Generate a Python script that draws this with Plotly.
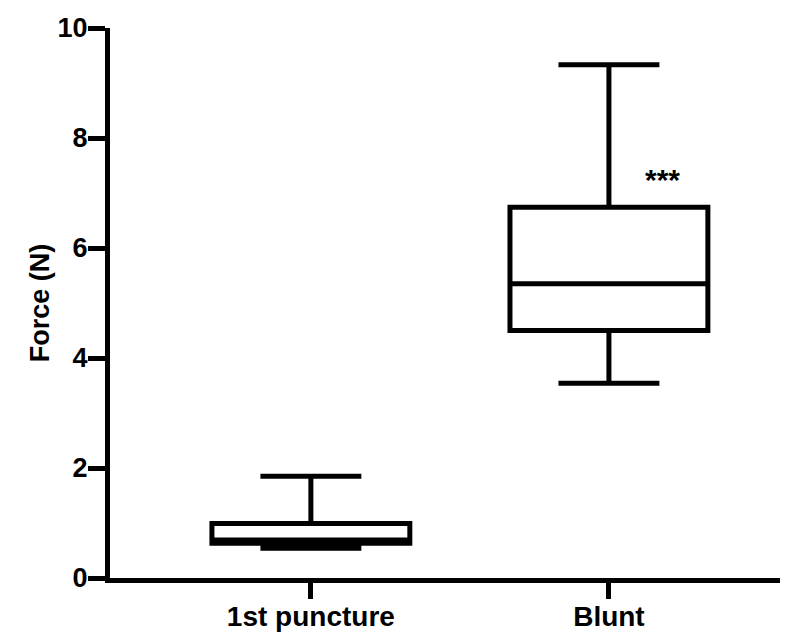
import plotly.graph_objects as go

categories = ["1st puncture", "Blunt"]
q1 = [0.63, 4.50]
median = [0.69, 5.35]
q3 = [0.99, 6.74]
lower_whisker = [0.54, 3.54]
upper_whisker = [1.85, 9.33]
y_ticks = [0, 2, 4, 6, 8, 10]
sig_label = "***"

FONT = "Liberation Sans, Arial, sans-serif"

fig = go.Figure()
for i, cat in enumerate(categories):
    fig.add_trace(go.Box(
        x=[cat],
        q1=[q1[i]], median=[median[i]], q3=[q3[i]],
        lowerfence=[lower_whisker[i]], upperfence=[upper_whisker[i]],
        width=0.664,
        whiskerwidth=0.51,
        fillcolor="white",
        line=dict(color="black", width=5),
        boxpoints=False,
        showlegend=False,
        hoverinfo="skip",
    ))

fig.add_annotation(
    x=1.18, y=7.25, text=sig_label, showarrow=False,
    font=dict(family=FONT, size=30, color="black", weight="bold"),
    xref="x", yref="y", yanchor="middle", xanchor="center",
)

fig.update_layout(
    width=798, height=634,
    margin=dict(l=102, r=26, t=20, b=64),
    paper_bgcolor="white", plot_bgcolor="white",
    font=dict(family=FONT, size=28, color="black", weight="bold"),
    xaxis=dict(
        type="category",
        categoryorder="array", categoryarray=categories,
        range=[-0.674, 1.574],
        automargin=False,
        showline=True, linecolor="black", linewidth=5,
        ticks="outside", ticklen=16, tickwidth=5, tickcolor="black",
        ticklabelstandoff=-7,
        showgrid=False, zeroline=False,
        tickfont=dict(family=FONT, size=28, color="black", weight="bold"),
    ),
    yaxis=dict(
        range=[0, 10],
        tickvals=y_ticks,
        automargin=False,
        showline=True, linecolor="black", linewidth=5,
        ticks="outside", ticklen=17, tickwidth=5, tickcolor="black",
        ticklabelstandoff=-5,
        showgrid=False, zeroline=False,
        tickfont=dict(family=FONT, size=27, color="black", weight="bold"),
        title=dict(text="Force (N)", standoff=2,
                   font=dict(family=FONT, size=27, color="black", weight="bold")),
    ),
)

fig.write_html("out.html")
